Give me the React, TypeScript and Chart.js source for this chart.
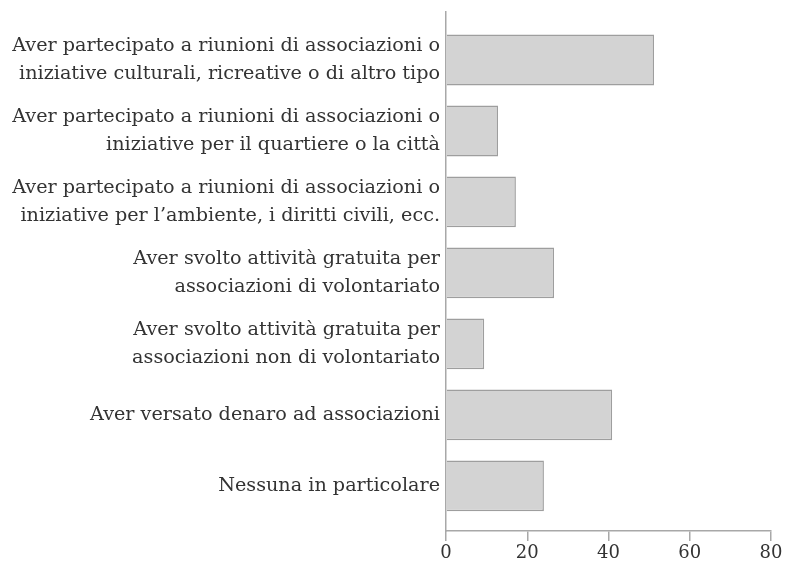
import React, { useEffect, useRef } from "react";
import { Chart, registerables } from "chart.js";

Chart.register(...registerables);

const categories: string[][] = [
  ["Aver partecipato a riunioni di associazioni o", "iniziative culturali, ricreative o di altro tipo"],
  ["Aver partecipato a riunioni di associazioni o", "iniziative per il quartiere o la città"],
  ["Aver partecipato a riunioni di associazioni o", "iniziative per l’ambiente, i diritti civili, ecc."],
  ["Aver svolto attività gratuita per", "associazioni di volontariato"],
  ["Aver svolto attività gratuita per", "associazioni non di volontariato"],
  ["Aver versato denaro ad associazioni"],
  ["Nessuna in particolare"],
];
const values: number[] = [51.2, 12.8, 17.2, 26.6, 9.4, 40.9, 24.1];
const xTicks: number[] = [0, 20, 40, 60, 80];

const FONT = "'DejaVu Serif', 'Liberation Serif', serif";

export default function App() {
  const ref = useRef<HTMLCanvasElement>(null);
  useEffect(() => {
    if (!ref.current) return;
    const chart = new Chart(ref.current, {
      type: "bar",
      data: {
        datasets: [
          {
            data: values.map((v, i) => ({ x: v, y: i })),
            backgroundColor: "#d3d3d3",
            borderColor: "#9e9e9e",
            borderWidth: 1.5,
            categoryPercentage: 1,
            barPercentage: 0.715,
          },
        ],
      },
      options: {
        indexAxis: "y",
        animation: false,
        responsive: true,
        maintainAspectRatio: false,
        layout: { padding: { top: 12, right: 15, bottom: 0, left: 0 } },
        plugins: { legend: { display: false }, tooltip: { enabled: false } },
        scales: {
          x: {
            type: "linear",
            min: 0,
            max: 80,
            afterBuildTicks: (axis: any) => {
              axis.ticks = xTicks.map((v) => ({ value: v }));
            },
            afterFit: (axis: any) => {
              axis.height = 38;
            },
            grid: {
              display: true,
              drawOnChartArea: false,
              drawTicks: true,
              tickLength: 10,
              color: "#a8a8a8",
              lineWidth: 1.5,
            },
            border: { display: true, color: "#a8a8a8", width: 1.5 },
            ticks: {
              color: "#333",
              padding: 2,
              font: { family: FONT, size: 18 },
            },
          },
          y: {
            type: "linear",
            reverse: true,
            offset: false,
            min: -0.676,
            max: 6.634,
            afterBuildTicks: (axis: any) => {
              axis.ticks = categories.map((_, i) => ({ value: i }));
            },
            afterFit: (axis: any) => {
              axis.width = 446;
              axis.paddingTop = 0;
              axis.paddingBottom = 0;
            },
            grid: { display: false, drawTicks: false, tickLength: 0 },
            border: { display: true, color: "#a8a8a8", width: 1.5 },
            ticks: {
              color: "#333",
              padding: 6,
              autoSkip: false,
              font: { family: FONT, size: 19.2, lineHeight: 28 / 19.2 },
              callback: (v: any) => categories[Math.round(Number(v))] ?? "",
            },
          },
        },
      },
    });
    return () => chart.destroy();
  }, []);
  return (
    <div style={{ position: "fixed", left: 0, top: 0, width: 786, height: 569, background: "#fff" }}>
      <canvas ref={ref} />
    </div>
  );
}
